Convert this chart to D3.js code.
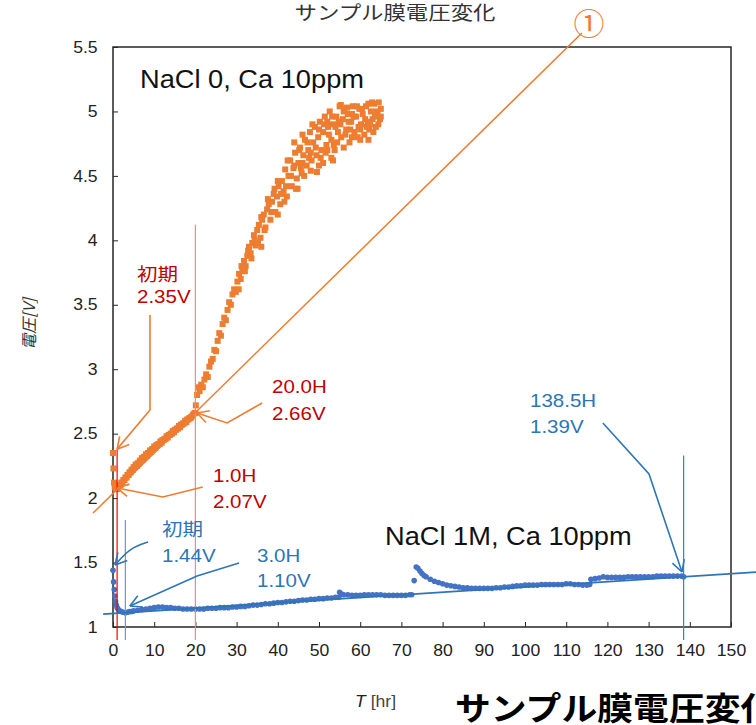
<!DOCTYPE html>
<html>
<head>
<meta charset="utf-8">
<script src="https://d3js.org/d3.v7.min.js"></script>
<style>
body { margin: 0; background: #fff; }
</style>
</head>
<body>
<script>
// ---- values ----
var xTicks = [0, 10, 20, 30, 40, 50, 60, 70, 80, 90, 100, 110, 120, 130, 140, 150];
var yTicks = [1, 1.5, 2, 2.5, 3, 3.5, 4, 4.5, 5, 5.5];

// NaCl 0, Ca 10ppm  [hr, V]
var naclZero = [
    [0,2.35],[0.1,2.23],[0.25,2.12],[0.4,2.09],[0.6,2.08],[0.8,2.07],[1.0,2.07],[1.2,2.08],
    [1.5,2.10],[1.8,2.10],[2,2.12],[2.3,2.12],[2.5,2.14],[2.8,2.14],[3,2.16],[3.3,2.16],[3.5,2.18],[3.8,2.18],
    [4,2.20],[4.3,2.20],[4.5,2.22],[4.8,2.22],[5,2.24],[5.3,2.24],[5.5,2.26],[5.8,2.25],[6,2.27],[6.3,2.27],
    [6.5,2.29],[6.8,2.29],[7,2.31],[7.3,2.30],[7.5,2.32],[7.8,2.32],[8,2.34],[8.3,2.33],[8.5,2.35],[8.8,2.35],
    [9,2.37],[9.3,2.36],[9.5,2.38],[9.8,2.38],[10,2.40],[10.3,2.39],[10.5,2.41],[10.8,2.41],[11,2.42],[11.3,2.42],
    [11.5,2.44],[11.8,2.43],[12,2.45],[12.3,2.45],[12.5,2.46],[12.8,2.46],[13,2.48],[13.3,2.47],[13.5,2.49],[13.8,2.49],
    [14,2.50],[14.3,2.50],[14.5,2.52],[14.8,2.51],[15,2.53],[15.3,2.53],[15.5,2.54],[15.8,2.54],[16,2.56],[16.3,2.55],
    [16.5,2.57],[16.8,2.57],[17,2.58],[17.3,2.58],[17.5,2.60],[17.8,2.59],[18,2.61],[18.3,2.61],[18.5,2.62],[18.8,2.62],
    [19,2.63],[19.3,2.64],[19.5,2.65],[19.8,2.66],[20,2.66],[20.1,2.72],
    [20.4,2.80],[20.7,2.86],[21,2.83],[21.4,2.88],[21.8,2.86],[22.2,2.92],[22.6,2.96],[23,2.94],[23.4,3.02],[23.8,3.06],
    [24.2,3.08],[24.6,3.15],[25,3.14],[25.4,3.22],[25.8,3.28],[26.2,3.26],[26.6,3.35],[27,3.40],[27.4,3.38],[27.8,3.46],
    [28.2,3.52],[28.6,3.50],[29,3.58],[29.4,3.62],[29.8,3.60],[30.2,3.68],[30.6,3.74],[31,3.70],[31.4,3.78],[31.8,3.84],
    [32.2,3.80],[32.6,3.88],[33,3.95],[33.4,3.90],[33.8,3.98],[34.2,4.04],[34.6,3.96],[35,4.08],[35.4,4.12],[35.8,4.02],
    [36.2,4.16],[36.6,4.20],[37,4.10],[37.4,4.24],[37.8,4.28],[38.2,4.16],[38.6,4.30],[39,4.36],[39.4,4.22],[39.8,4.34],
    [40.2,4.42],[40.6,4.28],[41,4.46],[41.4,4.38],[41.8,4.55],[42.2,4.34],[42.6,4.50],[43,4.62],[43.4,4.42],[43.8,4.56],
    [44.2,4.68],[44.6,4.48],[45,4.60],[45.4,4.72],[45.8,4.52],[46.2,4.66],[46.6,4.78],[47,4.58],[47.4,4.70],[47.8,4.84],
    [48.2,4.62],[48.6,4.76],[49,4.88],[49.4,4.66],[49.8,4.80],[50.2,4.92],[50.6,4.70],[51,4.84],[51.4,4.96],[51.8,4.74],
    [52.2,4.88],[52.6,5.00],[53,4.78],[53.4,4.90],[53.8,4.70],[54.2,4.96],[54.6,4.84],[55,5.04],[55.4,4.80],[55.8,4.94],
    [56.2,5.02],[56.6,4.86],[57,4.98],[57.4,4.76],[57.8,4.92],[58.2,5.04],[58.6,4.84],[59,4.96],[59.4,4.80],[59.8,5.02],
    [60.2,4.90],[60.6,4.98],[61,4.82],[61.4,5.04],[61.8,4.92],[62.2,4.86],[62.6,5.00],[63,4.94],[63.4,5.06],[63.8,4.88],
    [64.2,4.98],[64.5,5.07],[64.8,4.94],[65,5.02],
    [44.8,4.40],[50,4.58],[56,4.72],[60,4.78],[48,4.54],[53,4.64],[62,4.78],[40,4.20],[36,3.95],[58,4.98],
    [52,4.92],[46,4.82],[49.5,4.53],[53.4,4.62],[51,4.60],[44,4.76],[55.3,5.05],[56.8,5.03],[62.9,5.07],
    [30.5,3.62],[31.2,3.80],[32,3.76],[32.8,3.92],[33.6,3.86],[34.4,4.00],[35.2,3.98],[36,4.18],[36.8,4.08],[37.6,4.32],
    [38.4,4.22],[39.2,4.40],[40,4.46],[40.8,4.36],[41.6,4.30],[42.4,4.62],[43.2,4.50],[44,4.58],[44.4,4.40],[45.2,4.70],
    [46,4.60],[46.4,4.50],[47.2,4.76],[48,4.68],[48.4,4.90],[49.2,4.72],[50,4.86],[50.4,4.64],[51.2,4.90],[52,4.70],
    [52.4,4.82],[53.2,4.96],[54,4.88],[54.4,4.76],[55.2,4.90],[56,5.00],[56.4,4.82],[57.2,4.92],[58,4.80],[58.4,4.96],
    [59.2,5.04],[60,4.86],[60.4,5.02],[61.2,4.94],[62,5.06],[62.4,4.90],[63.2,4.84],[64,5.00],[64.4,4.90],[65,4.96],
    [42,4.42],[45.6,4.56],[47.6,4.64],[51.6,4.68],[54.8,4.92],[57.6,4.86],[61.6,4.88],[63.6,4.96],[59.6,4.88],[53.6,4.74]
];

// NaCl 1M, Ca 10ppm  [hr, V]
var naclOneM = [
    [0,1.44],[0.15,1.35],[0.3,1.29],[0.45,1.24],[0.6,1.20],[0.8,1.17],[1,1.15],[1.3,1.135],[1.6,1.125],[2,1.12],
    [2.5,1.115],[3,1.11],[3.5,1.115],[4,1.12],[4.5,1.12],
    [5,1.125],[6,1.13],[7,1.135],[8,1.14],[9,1.145],[10,1.15],[11,1.155],[12,1.155],[13,1.15],[14,1.15],
    [15,1.145],[16,1.145],[17,1.14],[18,1.14],[19,1.14],[20,1.14],[21,1.14],[22,1.14],[23,1.145],[24,1.145],
    [25,1.145],[26,1.15],[27,1.15],[28,1.15],[29,1.155],[30,1.155],[31,1.16],[32,1.16],[33,1.165],[34,1.17],
    [35,1.17],[36,1.175],[37,1.18],[38,1.18],[39,1.185],[40,1.19],[41,1.19],[42,1.195],[43,1.20],[44,1.20],
    [45,1.205],[46,1.21],[47,1.21],[48,1.215],[49,1.215],[50,1.22],[51,1.22],[52,1.225],[53,1.225],[54,1.23],
    [54.8,1.23],[55,1.27],[55.5,1.255],[56,1.25],[57,1.25],[58,1.245],[59,1.245],[60,1.245],[61,1.25],[62,1.25],
    [63,1.25],[64,1.25],[65,1.25],[66,1.245],[67,1.245],[68,1.245],[69,1.245],[70,1.245],[71,1.245],[72,1.25],
    [72.5,1.25],[73.1,1.36],[73.6,1.465],[74,1.455],[74.5,1.435],[75,1.415],[75.5,1.40],[76,1.39],[77,1.37],[78,1.355],
    [79,1.345],[80,1.335],[81,1.325],[82,1.32],[83,1.315],[84,1.31],[85,1.305],[86,1.305],[87,1.30],[88,1.30],
    [89,1.30],[90,1.30],[91,1.30],[92,1.30],[93,1.305],[94,1.305],[95,1.31],[96,1.31],[97,1.315],[98,1.32],
    [99,1.32],[100,1.325],[101,1.325],[102,1.325],[103,1.325],[104,1.33],[105,1.33],[106,1.33],[107,1.33],[108,1.33],
    [109,1.33],[110,1.335],[111,1.335],[112,1.33],[113,1.33],[114,1.325],[115,1.325],[115.7,1.33],[116,1.37],[117,1.375],
    [118,1.38],[119,1.39],[120,1.385],[121,1.385],[122,1.385],[123,1.385],[124,1.385],[125,1.39],[126,1.39],[127,1.39],
    [128,1.39],[129,1.39],[130,1.39],[131,1.39],[132,1.395],[133,1.395],[134,1.395],[135,1.395],[136,1.395],[137,1.395],
    [138,1.395],[138.5,1.39]
];

// linear trend lines (end points, [hr, V])
var trendZero = [[-4.85, 1.884], [113.8, 5.608]];
var trendOneM = [[-2.4, 1.10], [156.6, 1.427]];

// vertical marker lines [hr, from V, to V]
var markLines = [
    { t: 1,     v0: 0.9, v1: 2.38, color: "#ff0000" },
    { t: 20,    v0: 0.9, v1: 4.12, color: "#ff8585" },
    { t: 3,     v0: 0.9, v1: 1.83, color: "#5b9bd5" },
    { t: 138.5, v0: 0.9, v1: 2.33, color: "#2e86d0" }
];

// callout arrows, points in [hr, V], last point is the tip
var callouts = [
    { color: "#ed7d31", curved: false, pts: [[8.98, 3.42], [8.98, 2.684], [1.0, 2.38]] },
    { color: "#ed7d31", curved: false, pts: [[36.2, 2.738], [27.7, 2.583], [20.4, 2.66]] },
    { color: "#ed7d31", curved: false, pts: [[21.8, 2.086], [12.1, 2.009], [1.0, 2.078]] },
    { color: "#2e75b6", curved: true,  pts: [[8.5, 1.659], [4.1, 1.613], [0.5, 1.481]] },
    { color: "#2e75b6", curved: false, pts: [[30.6, 1.497], [20.4, 1.396], [4.1, 1.163]] },
    { color: "#2e75b6", curved: false, pts: [[118.9, 2.583], [130.1, 2.187], [138.1, 1.427]] }
];

// callout labels
var calloutText = [
    { s: "初期",   x: 137, y: 281, color: "#c00000" },
    { s: "2.35V",  x: 137, y: 303, color: "#c00000" },
    { s: "20.0H",  x: 272, y: 393, color: "#c00000" },
    { s: "2.66V",  x: 272, y: 420, color: "#c00000" },
    { s: "1.0H",   x: 213, y: 482, color: "#c00000" },
    { s: "2.07V",  x: 213, y: 508, color: "#c00000" },
    { s: "初期",   x: 162, y: 536, color: "#2e75b6" },
    { s: "1.44V",  x: 162, y: 562, color: "#2e75b6" },
    { s: "3.0H",   x: 257, y: 562, color: "#2e75b6" },
    { s: "1.10V",  x: 257, y: 587, color: "#2e75b6" },
    { s: "138.5H", x: 530, y: 407, color: "#2e75b6" },
    { s: "1.39V",  x: 530, y: 433, color: "#2e75b6" }
];

var width = 756;
var height = 725;
var latin = "'Liberation Sans', Arial, sans-serif";
var cjk = "'Noto Sans CJK JP', 'Noto Sans', sans-serif";

var svg = d3.select("body")
    .append("svg")
    .attr("width", width)
    .attr("height", height);

var x = d3.scaleLinear().domain([0, 150]).range([113, 731]);
var y = d3.scaleLinear().domain([1, 5.5]).range([627, 47]);

function addText(str, px, py, size, color, sx, family) {
    return svg.append("text")
        .attr("transform", "translate(" + px + "," + py + ") scale(" + sx + ",1)")
        .attr("font-family", family || latin)
        .attr("font-size", size + "px")
        .attr("fill", color)
        .text(str);
}

// axes (ticks inside the frame)
var gx = svg.append("g")
    .attr("transform", "translate(0," + y(1) + ")")
    .call(d3.axisBottom(x).tickValues(xTicks).tickSizeInner(-5).tickSizeOuter(0).tickPadding(18));
gx.select(".domain").remove();
gx.selectAll("line").attr("stroke", "#262626");
gx.selectAll("text")
    .attr("font-family", latin)
    .attr("font-size", "16px")
    .attr("fill", "#222")
    .attr("transform", "scale(1.1,1)");

var gy = svg.append("g")
    .attr("transform", "translate(" + x(0) + ",0)")
    .call(d3.axisLeft(y).tickValues(yTicks).tickSizeInner(-5).tickSizeOuter(0).tickPadding(14)
        .tickFormat(function(d) { return String(d); }));
gy.select(".domain").remove();
gy.selectAll("line").attr("stroke", "#262626");
gy.selectAll("text")
    .attr("font-family", latin)
    .attr("font-size", "16px")
    .attr("fill", "#222")
    .attr("transform", "scale(1.1,1)");

// frame
svg.append("rect")
    .attr("x", x(0))
    .attr("y", y(5.5))
    .attr("width", x(150) - x(0))
    .attr("height", y(1) - y(5.5))
    .attr("fill", "none")
    .attr("stroke", "#262626")
    .attr("stroke-width", 1.5);

// markers
svg.selectAll("rect.sq")
    .data(naclZero)
    .enter()
    .append("rect")
    .attr("class", "sq")
    .attr("x", function(d) { return x(d[0]) - 3; })
    .attr("y", function(d) { return y(d[1]) - 3; })
    .attr("width", 6)
    .attr("height", 6)
    .attr("fill", "#ed7d31");

svg.selectAll("circle.dot")
    .data(naclOneM)
    .enter()
    .append("circle")
    .attr("class", "dot")
    .attr("cx", function(d) { return x(d[0]); })
    .attr("cy", function(d) { return y(d[1]); })
    .attr("r", 2.8)
    .attr("fill", "#4472c4");

// vertical marker lines
svg.selectAll("line.mark")
    .data(markLines)
    .enter()
    .append("line")
    .attr("class", "mark")
    .attr("x1", function(d) { return x(d.t); })
    .attr("x2", function(d) { return x(d.t); })
    .attr("y1", function(d) { return y(d.v0); })
    .attr("y2", function(d) { return y(d.v1); })
    .attr("stroke", function(d) { return d.color; })
    .attr("stroke-width", 1.2);

// trend lines
var line = d3.line()
    .x(function(d) { return x(d[0]); })
    .y(function(d) { return y(d[1]); });

svg.append("path").attr("d", line(trendZero))
    .attr("fill", "none").attr("stroke", "#ed7d31").attr("stroke-width", 1.5);
svg.append("path").attr("d", line(trendOneM))
    .attr("fill", "none").attr("stroke", "#2e75b6").attr("stroke-width", 1.8);

// callout arrows
var curveLine = d3.line()
    .x(function(d) { return x(d[0]); })
    .y(function(d) { return y(d[1]); })
    .curve(d3.curveBasis);

callouts.forEach(function(c) {
    svg.append("path")
        .attr("d", c.curved ? curveLine(c.pts) : line(c.pts))
        .attr("fill", "none")
        .attr("stroke", c.color)
        .attr("stroke-width", 1.6);

    var n = c.pts.length;
    var tx = x(c.pts[n - 1][0]), ty = y(c.pts[n - 1][1]);
    var fx = x(c.pts[n - 2][0]), fy = y(c.pts[n - 2][1]);
    var a = Math.atan2(fy - ty, fx - tx);
    var len = 13, spread = 0.5;
    [a - spread, a + spread].forEach(function(b) {
        svg.append("line")
            .attr("x1", tx).attr("y1", ty)
            .attr("x2", tx + len * Math.cos(b))
            .attr("y2", ty + len * Math.sin(b))
            .attr("stroke", c.color)
            .attr("stroke-width", 1.6);
    });
});

// callout labels
calloutText.forEach(function(d) {
    var isCjk = /[^\x00-\x7f]/.test(d.s);
    addText(d.s, d.x, d.y, 18, d.color, 1.14, isCjk ? cjk : latin);
});

// series labels
addText("NaCl 0, Ca 10ppm", 140, 88, 25, "#111", 1.09);
addText("NaCl 1M, Ca 10ppm", 385, 545, 25, "#111", 1.09);

// circled number at the end of the trend line
addText("①", 589, 35, 31, "#ed7d31", 1, cjk).attr("text-anchor", "middle");

// title
addText("サンプル膜電圧変化", 395, 20, 19, "#333", 1.18, cjk).attr("text-anchor", "middle");

// axis titles
svg.append("text")
    .attr("transform", "translate(35,324) rotate(-90)")
    .attr("text-anchor", "middle")
    .attr("font-family", cjk)
    .attr("font-size", "16px")
    .attr("font-style", "italic")
    .attr("fill", "#333")
    .text("電圧[V]");

var xt = addText("", 355, 707, 16, "#222", 1.1);
xt.append("tspan").attr("font-style", "italic").text("T");
xt.append("tspan").attr("fill", "#444").text(" [hr]");

// large caption at the bottom, cut by the right edge as in the source
addText("サンプル膜電圧変化", 455, 720, 32, "#000", 1.12, cjk).attr("font-weight", "bold");
</script>
</body>
</html>
